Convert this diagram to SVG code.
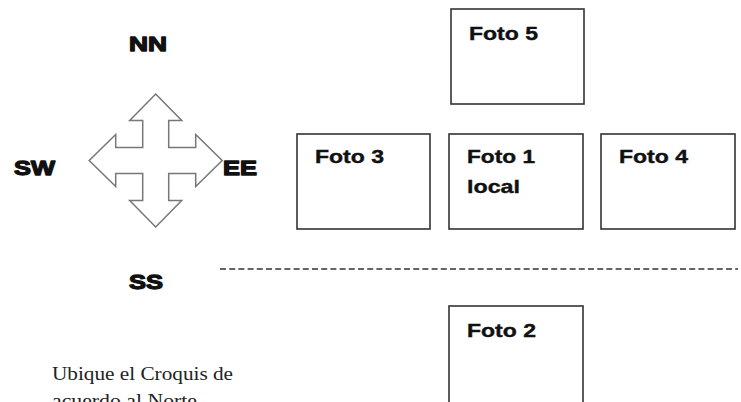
<svg xmlns="http://www.w3.org/2000/svg" width="741" height="402" viewBox="0 0 741 402">
<style>
.box{fill:#fff;stroke:#333;stroke-width:1.6}
.lbl{font-family:"Liberation Sans",Arial,sans-serif;font-weight:bold;font-size:19px;fill:#111;stroke:#111;stroke-width:0.4}
.dir{font-family:"Liberation Sans",Arial,sans-serif;font-weight:900;font-size:21px;fill:#111;stroke:#111;stroke-width:1.3;stroke-linejoin:round}
.note{font-family:"Liberation Serif","Times New Roman",serif;font-size:18px;fill:#222}
</style>
<rect width="741" height="402" fill="#fff"/>
<g id="compass">
<path d="M155.7,94 L181.7,120.5 L168.7,120.5 L168.7,147.5 L195.7,147.5 L195.7,134.5 L222.2,160.5 L195.7,186.5 L195.7,173.5 L168.7,173.5 L168.7,200.5 L181.7,200.5 L155.7,227 L129.7,200.5 L142.7,200.5 L142.7,173.5 L115.7,173.5 L115.7,186.5 L89.2,160.5 L115.7,134.5 L115.7,147.5 L142.7,147.5 L142.7,120.5 L129.7,120.5 Z" fill="#fff" stroke="#777" stroke-width="1.5" stroke-linejoin="miter"/>
</g>
<g id="dir-nn"><text class="dir" x="129" y="51" textLength="38" lengthAdjust="spacingAndGlyphs">NN</text></g>
<g id="dir-sw"><text class="dir" x="14" y="175" textLength="41" lengthAdjust="spacingAndGlyphs">SW</text></g>
<g id="dir-ee"><text class="dir" x="223" y="175" textLength="34" lengthAdjust="spacingAndGlyphs">EE</text></g>
<g id="dir-ss"><text class="dir" x="129" y="289" textLength="34" lengthAdjust="spacingAndGlyphs">SS</text></g>
<g id="foto5"><rect class="box" x="451" y="9" width="133" height="95"/><text class="lbl" x="469" y="40" textLength="69" lengthAdjust="spacingAndGlyphs">Foto 5</text></g>
<g id="foto3"><rect class="box" x="297" y="134" width="133" height="95"/><text class="lbl" x="315" y="163" textLength="69" lengthAdjust="spacingAndGlyphs">Foto 3</text></g>
<g id="foto1"><rect class="box" x="449" y="134" width="134" height="95"/><text class="lbl" x="467" y="163" textLength="68" lengthAdjust="spacingAndGlyphs">Foto 1</text><text class="lbl" x="467" y="193" textLength="53" lengthAdjust="spacingAndGlyphs">local</text></g>
<g id="foto4"><rect class="box" x="601" y="134" width="134" height="95"/><text class="lbl" x="619" y="163" textLength="69" lengthAdjust="spacingAndGlyphs">Foto 4</text></g>
<g id="foto2"><rect class="box" x="449" y="306" width="134" height="110"/><text class="lbl" x="467" y="337" textLength="69" lengthAdjust="spacingAndGlyphs">Foto 2</text></g>
<g id="connectors"><line x1="220" y1="269" x2="738" y2="269" stroke="#333" stroke-width="1.5" stroke-dasharray="6,3.2"/></g>
<g id="note">
<text class="note" x="52" y="380" textLength="181" lengthAdjust="spacingAndGlyphs">Ubique el Croquis de</text>
<text class="note" x="52" y="407" textLength="145" lengthAdjust="spacingAndGlyphs">acuerdo al Norte</text>
</g>
</svg>
